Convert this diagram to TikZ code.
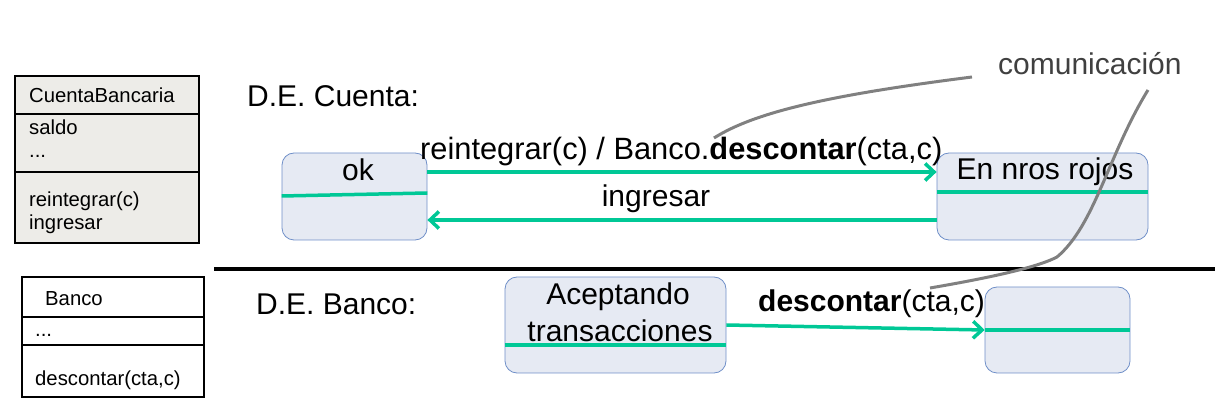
\documentclass[tikz,border=0pt]{standalone}
\usepackage{fontspec}
\setmainfont{Liberation Sans}
\usetikzlibrary{arrows.meta,positioning}
\definecolor{trgreen}{RGB}{0,200,150}
\definecolor{stfill}{RGB}{230,234,243}
\definecolor{stline}{RGB}{111,143,200}
\definecolor{clfill}{RGB}{237,236,232}
\definecolor{notegray}{RGB}{128,128,128}
\tikzset{
diagram/.style={>={Straight Barb[length=9pt,width=17pt]},x=1pt,y=-1pt},
state/.style={rectangle,draw=stline,fill=stfill,rounded corners=12pt,
    line width=0.8pt,inner sep=0pt},
classbox/.style={rectangle,draw=black,line width=2pt,inner sep=0pt},
classline/.style={draw=black,line width=2pt},
classtext/.style={anchor=base west,inner sep=0pt,
    font=\fontsize{20.3}{23}\selectfont},
big/.style={anchor=base,inner sep=0pt,font=\fontsize{30}{34}\selectfont},
trans/.style={->,draw=trgreen,line width=3.5pt},
divide/.style={draw=trgreen,line width=3.5pt},
note/.style={draw=notegray,line width=3pt},
}
\begin{document}
\begin{tikzpicture}[diagram]
    \useasboundingbox (0,0) rectangle (1218,411);

    % class boxes
    \node[classbox,fill=clfill,minimum width=184,minimum height=167] (cb) at (107,159.5) {};
    \draw[classline] (cb.west |- 0,114) -- (cb.east |- 0,114);
    \draw[classline] (cb.west |- 0,172) -- (cb.east |- 0,172);
    \node[classtext] (cbname) at (29,103) {CuentaBancaria};
    \node[classtext] (cbattr) at (29,135) {saldo};
    \node[classtext] (cbdots) at (29,158) {...};
    \node[classtext] (cbop1) at (29,207) {reintegrar(c)};
    \node[classtext] (cbop2) at (29,230) {ingresar};

    \node[classbox,fill=white,minimum width=182,minimum height=120] (bk) at (113,337) {};
    \draw[classline] (bk.west |- 0,317) -- (bk.east |- 0,317);
    \draw[classline] (bk.west |- 0,345) -- (bk.east |- 0,345);
    \node[classtext] (bkname) at (45,306) {Banco};
    \node[classtext] (bkdots) at (35,337) {...};
    \node[classtext] (bkop) at (35,385) {descontar(cta,c)};

    % separator
    \coordinate (sepl) at (214,269);
    \coordinate (sepr) at (1215,269);
    \draw[line width=4pt] (sepl) -- (sepr);

    % D.E. Cuenta
    \node[big,anchor=base west] (tcuenta) at (247,107) {D.E. Cuenta:};
    \node[state,minimum width=145,minimum height=87] (ok) at (354.5,196.5) {};
    \node[state,minimum width=211,minimum height=87] (enr) at (1042.5,196.5) {};
    \draw[divide] ([yshift=0.5pt]ok.west) -- ([yshift=3.5pt]ok.east);
    \draw[divide] ([yshift=4.5pt]enr.west) -- ([yshift=4.5pt]enr.east);
    \node[big] (okname) at (358,181) {ok};
    \node[big] (enrname) at (1045,180) {En nros rojos};

    \draw[trans] ([yshift=24.5pt]ok.east) -- ([yshift=24.5pt]enr.west);
    \draw[trans] ([yshift=-23.5pt]enr.west) -- ([yshift=-23.5pt]ok.east);
    \node[big,anchor=base west,font=\fontsize{30.8}{34}\selectfont] (reint) at (420,160)
        {reintegrar(c) / Banco.\textbf{descontar}(cta,c)};
    \node[big] (ingr) at (656,207) {ingresar};

    % D.E. Banco
    \node[big,anchor=base west] (tbanco) at (256,315) {D.E. Banco:};
    \node[state,minimum width=221,minimum height=96] (acep) at (615.5,325) {};
    \node[state,minimum width=145,minimum height=86] (bst) at (1057.5,330) {};
    \draw[divide] ([yshift=-20pt]acep.west) -- ([yshift=-20pt]acep.east);
    \draw[divide] (bst.west) -- (bst.east);
    \node[big] (acep1) at (618,305) {Aceptando};
    \node[big] (acep2) at (620,342) {transacciones};
    \draw[trans] (acep.east) -- (bst.west);
    \node[big,anchor=base west] (desc) at (758,312) {\textbf{descontar}(cta,c)};

    % comunicacion
    \node[anchor=base west,inner sep=0pt,text=black!75,
        font=\fontsize{30}{34}\selectfont] (com) at (998,75) {comunicación};
    \coordinate (n1a) at (714,138);
    \coordinate (n1b) at (972,77);
    \coordinate (n2a) at (1148,90);
    \coordinate (n2b) at (930,288);
    \draw[note] (n1a) .. controls (755,112) and (830,95) .. (n1b);
    \draw[note] (n2a) .. controls (1108,155) and (1095,225) .. (1057,257)
        .. controls (1040,266) and (1000,276) .. (n2b);
\end{tikzpicture}
\end{document}
